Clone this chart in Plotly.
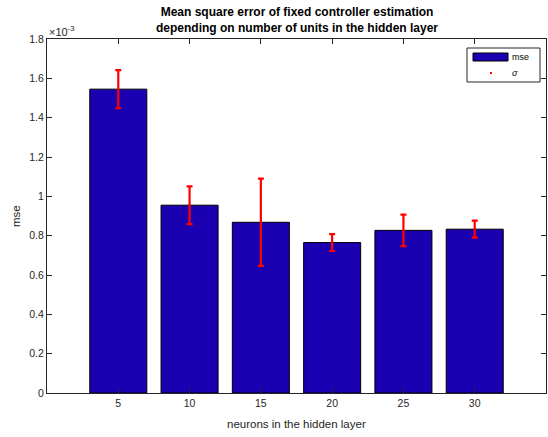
import plotly.graph_objects as go

neurons = [5, 10, 15, 20, 25, 30]
mse = [1.545e-3, 0.955e-3, 0.868e-3, 0.765e-3, 0.827e-3, 0.833e-3]
sigma = [0.097e-3, 0.096e-3, 0.222e-3, 0.043e-3, 0.080e-3, 0.043e-3]
y_ticks = [0, 0.2, 0.4, 0.6, 0.8, 1.0, 1.2, 1.4, 1.6, 1.8]
y_ticklabels = ["0", "0.2", "0.4", "0.6", "0.8", "1", "1.2", "1.4", "1.6", "1.8"]

scale = 1e3
font = "Liberation Sans, Arial, Helvetica, sans-serif"
tick_col = "#262626"
bar_col = "#1a00b0"

fig = go.Figure()
fig.add_trace(go.Bar(
    x=neurons, y=[v * scale for v in mse], width=4,
    marker=dict(color=bar_col, line=dict(color="black", width=1)),
    error_y=dict(type="data", array=[s * scale for s in sigma], color="red",
                 thickness=2.2, width=3),
    showlegend=False,
))

fig.update_layout(
    width=548, height=437, autosize=False,
    margin=dict(l=47, r=2, t=39, b=44, autoexpand=False),
    paper_bgcolor="white", plot_bgcolor="white",
    font=dict(family=font, size=10, color=tick_col),
    xaxis=dict(range=[0, 35], tickvals=neurons, ticks="inside", ticklen=5,
               showline=True, linecolor=tick_col, linewidth=1, mirror="ticks",
               tickcolor=tick_col, showgrid=False, zeroline=False,
               automargin=False, tickfont=dict(size=10.5)),
    yaxis=dict(range=[0, 1.8], tickvals=y_ticks, ticktext=y_ticklabels,
               ticks="inside", ticklen=5, showline=True, linecolor=tick_col,
               linewidth=1, mirror="ticks", tickcolor=tick_col, showgrid=False,
               zeroline=False, automargin=False, tickfont=dict(size=10.5)),
    bargap=0.2,
)

def px_x(p):
    return (p - 47) / (546 - 47)

def px_y(p):
    return (393 - p) / (393 - 39)

# title
fig.add_annotation(xref="paper", yref="paper", x=0.5, y=1.0, yshift=2,
                   xanchor="center", yanchor="bottom", showarrow=False,
                   text="<b>Mean square error of fixed controller estimation<br>depending on number of units in the hidden layer</b>",
                   font=dict(size=12, color="black", family=font))
# axis titles
fig.add_annotation(xref="paper", yref="paper", x=0.5, y=px_y(424),
                   xanchor="center", yanchor="middle", showarrow=False,
                   text="neurons in the hidden layer",
                   font=dict(size=11.5, color=tick_col, family=font))
fig.add_annotation(xref="paper", yref="paper", x=px_x(16), y=0.5,
                   xanchor="center", yanchor="middle", showarrow=False, textangle=-90,
                   text="mse", font=dict(size=11.5, color=tick_col, family=font))
# exponent
fig.add_annotation(xref="paper", yref="paper", x=0, y=1.0, xshift=0, yshift=-1,
                   xanchor="left", yanchor="bottom", showarrow=False,
                   text="\u00d710<sup>-3</sup>", font=dict(size=11, color=tick_col, family=font))

# legend box (manual, MATLAB style)
fig.add_shape(type="rect", xref="paper", yref="paper",
              x0=px_x(467), x1=px_x(540), y0=px_y(82), y1=px_y(48),
              line=dict(color=tick_col, width=1), fillcolor="white")
fig.add_shape(type="rect", xref="paper", yref="paper",
              x0=px_x(473), x1=px_x(508), y0=px_y(61), y1=px_y(53),
              line=dict(color="black", width=1), fillcolor=bar_col)
fig.add_shape(type="rect", xref="paper", yref="paper",
              x0=px_x(490), x1=px_x(492), y0=px_y(74), y1=px_y(72),
              line=dict(color="red", width=0), fillcolor="red")
fig.add_annotation(xref="paper", yref="paper", x=px_x(510), y=px_y(57),
                   xanchor="left", yanchor="middle", showarrow=False,
                   text="mse", font=dict(size=9, color="black", family=font))
fig.add_annotation(xref="paper", yref="paper", x=px_x(510), y=px_y(73),
                   xanchor="left", yanchor="middle", showarrow=False,
                   text="<i>\u03c3</i>", font=dict(size=9, color="black", family=font))

fig.write_html(
    "out.html",
    config={"responsive": False, "displayModeBar": False},
    post_script="document.body.style.margin='0';document.body.style.overflow='hidden';",
)
